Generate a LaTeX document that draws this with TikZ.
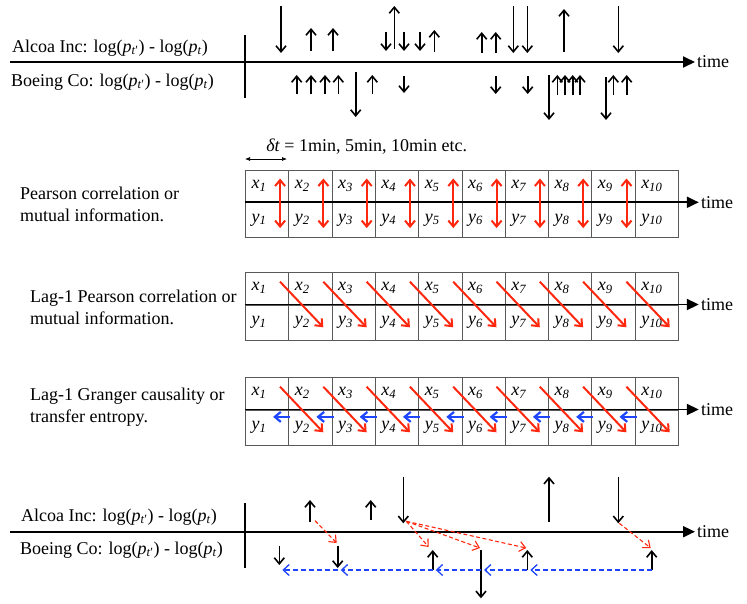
\documentclass[tikz,border=0pt]{standalone}
\usepackage{fontspec}
\setmainfont{Liberation Serif}
\usepackage{tikz}
\usetikzlibrary{positioning}
\usetikzlibrary{arrows.meta}
\usetikzlibrary{calc}
\definecolor{lagred}{RGB}{255,40,15}
\definecolor{lagblue}{RGB}{30,70,255}
\tikzstyle{spike} = [line width=1.6pt,-{Straight Barb[length=6pt,width=10pt]}]
\tikzstyle{timeaxis} = [line width=1.9pt,-{Triangle[length=12pt,width=11pt]}]
\tikzstyle{cellbox} = [draw=black!65, line width=0.8pt, minimum width=43.3pt, text width=31pt, align=left, inner xsep=6pt, inner ysep=0pt]
\tikzstyle{corrarrow} = [lagred, line width=2pt, {Straight Barb[length=6pt,width=10pt]}-{Straight Barb[length=6pt,width=10pt]}]
\tikzstyle{lagarrow} = [lagred, line width=2pt, -{Straight Barb[length=6pt,width=10pt]}]
\tikzstyle{backarrow} = [lagblue, line width=2.2pt, -{Straight Barb[length=6pt,width=10pt]}]
\tikzstyle{redlink} = [lagred, line width=1.1pt, dash pattern=on 4pt off 2.5pt, -{Straight Barb[length=6pt,width=10pt]}]
\tikzstyle{bluelink} = [lagblue, line width=1.3pt, dash pattern=on 5pt off 3pt, -{Straight Barb[length=6pt,width=11pt]}]
\newcommand{\logret}{log(\textit{p}\textsubscript{\textit{t}′}) - log(\textit{p}\textsubscript{\textit{t}})}

\begin{document}
\begin{tikzpicture}[
    x = 1pt, y = -1pt,
    every node/.style = {inner sep = 0pt, font = \fontsize{18}{22}\selectfont}
  ]
  \useasboundingbox (0,0) rectangle (747,603);

  % Top: returns of both stocks
  \coordinate (topstart) at (10,62);
  \draw[timeaxis] (topstart) -- ++(685,0) coordinate (toptip);
  \node[right = 2pt of toptip] (toptime) {time};
  \draw[line width = 1.9pt] (245,35) -- (245,98);
  \node[anchor = west] (alcoatop) at (12,48) {Alcoa Inc: \logret};
  \node[anchor = west] (boeingtop) at (11,81.7) {Boeing Co: \logret};
  \foreach \x/\ya/\yb in {281/6/53, 311/51/28, 333/51/28, 386/32/51, 394.3/49/6, 404/32/51, 420/32/51,
      434.3/52/30, 481.7/53/32, 495.7/53/32, 513.3/6/53, 527.3/6/53, 564/52/9, 618.3/6/53,
      296.7/94/75, 311/94/75, 325/94/75, 338.3/94/75, 355.7/72/117, 372.3/94/75, 404/76/93,
      495.7/76/94, 527.7/76/94, 549/75/120, 557.3/95/75, 565/95/75, 572.7/95/75, 580/95/75,
      606/77/120, 613.3/95/75, 626.7/95/75}
    \draw[spike] (\x,\ya) -- (\x,\yb);

  % Sampling interval
  \coordinate (dtl) at (245,159);
  \coordinate (dtr) at (287,159);
  \draw[line width = 0.7pt, {Latex[length=5pt,width=4pt]}-{Latex[length=5pt,width=4pt]}] (dtl) -- (dtr);
  \node (dtlabel) at (366.7,146.7) {\textit{δt} = 1min, 5min, 10min etc.};

  % Binned series
  \foreach \g/\ytop in {a/169.5, b/271.7, c/376.7} {
    \foreach \i in {1,...,10} {
      \node[cellbox, minimum height = 32pt, anchor = north west] (\g x\i) at ({245+43.3*(\i-1)}, \ytop)
        {\textit{x}\textsubscript{\textit{\i}}};
      \node[cellbox, minimum height = 35pt, below = 0pt of \g x\i] (\g y\i)
        {\textit{y}\textsubscript{\textit{\i}}};
    }
    \draw[timeaxis] (\g x1.south west) -- ($(\g x10.south east)+(20,0)$) coordinate (\g tip);
    \node[right = 2pt of \g tip] (\g time) {time};
  }

  \node[anchor = west, align = left] (pearson) at (20,204) {Pearson correlation or\\mutual information.};
  \node[anchor = west, align = left] (lagpearson) at (30,307) {Lag-1 Pearson correlation or\\mutual information.};
  \node[anchor = west, align = left] (granger) at (30,407.5) {Lag-1 Granger causality or\\transfer entropy.};

  \foreach \i in {1,...,9}
    \draw[corrarrow] ($(ay\i.south east)+(-9,-10)$) -- ($(ax\i.north east)+(-9,9)$);
  \foreach \j [count = \i] in {2,...,10} {
    \draw[lagarrow] ($(bx\i.north west)+(35,10)$) -- ($(by\j.south west)+(35,-13)$);
    \draw[lagarrow] ($(cx\i.north west)+(35,10)$) -- ($(cy\j.south west)+(35,-13)$);
    \draw[backarrow] ($(cy\j.north west)+(2,7.4)$) -- ($(cy\i.north east)+(-16,7.4)$);
  }

  % Bottom: lagged links between events
  \coordinate (botstart) at (10,531.7);
  \draw[timeaxis] (botstart) -- ++(685,0) coordinate (bottip);
  \node[right = 2pt of bottip] (bottime) {time};
  \draw[line width = 1.9pt] (245,503) -- (245,568);
  \node[anchor = west] (alcoabot) at (21,516.7) {Alcoa Inc: \logret};
  \node[anchor = west] (boeingbot) at (20,550) {Boeing Co: \logret};

  \coordinate (a1) at (310,521.7);
  \coordinate (a2) at (370.7,520);
  \coordinate (a3) at (403.3,523.3);
  \coordinate (a4) at (549,521.7);
  \coordinate (a5) at (618.3,523.3);
  \draw[spike] (a1) -- ++(0,-21.7);
  \draw[spike] (a2) -- ++(0,-20);
  \draw[spike] (403.3,476.7) -- (a3);
  \draw[spike] (a4) -- ++(0,-45);
  \draw[spike] (618.3,476.7) -- (a5);

  \coordinate (b1) at (279.3,546);
  \coordinate (b2) at (337.7,546);
  \coordinate (b3) at (432.7,550);
  \coordinate (b4) at (481,550);
  \coordinate (b5) at (527.3,550);
  \coordinate (b6) at (651.7,550);
  \coordinate (qline) at (0,570);
  \draw[spike] (b1) -- ++(0,19);
  \draw[spike] (b2) -- ++(0,22);
  \draw[spike] (b3 |- qline) -- (b3);
  \draw[spike] (b4) -- ++(0,48.3);
  \draw[spike] (b5 |- qline) -- (b5);
  \draw[spike] (b6 |- qline) -- (b6);

  \draw[redlink] ($(a1)+(5,-1)$) -- ($(b2)+(-1,-3)$);
  \draw[redlink] ($(a3)+(3,-2)$) -- ($(b3)+(-4,-3)$);
  \draw[redlink] ($(a3)+(3,-2)$) -- ($(b4)+(-1,-2)$);
  \draw[redlink] ($(a3)+(3,-2)$) -- ($(b5)+(-1,-2)$);
  \draw[redlink] ($(a5)+(1,0)$) -- ($(b6)+(-1,-2)$);

  \draw[bluelink, shorten > = 3pt] (b6 |- qline) -- (b5 |- qline);
  \draw[bluelink, shorten > = 3pt] (b5 |- qline) -- (b4 |- qline);
  \draw[bluelink, shorten > = 3pt] (b4 |- qline) -- (b3 |- qline);
  \draw[bluelink, shorten > = 3pt] (b3 |- qline) -- (b2 |- qline);
  \draw[bluelink, shorten > = 3pt] (b2 |- qline) -- (b1 |- qline);
\end{tikzpicture}
\end{document}
